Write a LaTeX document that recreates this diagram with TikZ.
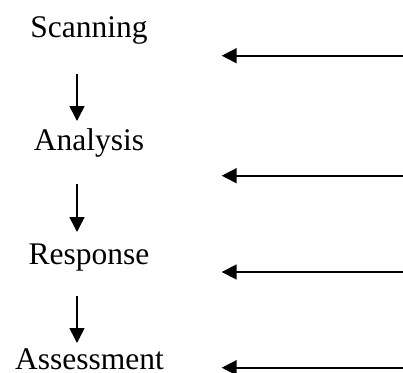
\documentclass[tikz,border=0pt]{standalone}
\usepackage{fontspec}
\setmainfont{Liberation Serif}
\usetikzlibrary{arrows.meta}
\begin{document}
\begin{tikzpicture}[x=1pt,y=-1pt,
  label/.style={anchor=base,inner sep=0pt,font=\fontsize{31.5}{36}\selectfont},
  conn/.style={line width=1.6pt,-{Triangle[length=15pt,width=15pt]}}]
\useasboundingbox (0,0) rectangle (403,372);
\node[label] (scan) at (89,37.3) {Scanning};
\node[label] (anal) at (89,150.7) {Analysis};
\node[label] (resp) at (89,264) {Response};
\node[label,text depth=0pt] (asse) at (89.5,369.5) {Assessment};
\coordinate (d1a) at (77,74);  \coordinate (d1b) at (77,121);
\coordinate (d2a) at (77,184); \coordinate (d2b) at (77,232);
\coordinate (d3a) at (77,296); \coordinate (d3b) at (77,343);
\draw[conn] (d1a) -- (d1b);
\draw[conn] (d2a) -- (d2b);
\draw[conn] (d3a) -- (d3b);
\coordinate (h1a) at (403,55.7);  \coordinate (h1b) at (221.7,55.7);
\coordinate (h2a) at (403,175.7); \coordinate (h2b) at (221.7,175.7);
\coordinate (h3a) at (403,272);   \coordinate (h3b) at (221.7,272);
\coordinate (h4a) at (403,367.7); \coordinate (h4b) at (221.7,367.7);
\draw[conn] (h1a) -- (h1b);
\draw[conn] (h2a) -- (h2b);
\draw[conn] (h3a) -- (h3b);
\draw[conn] (h4a) -- (h4b);
\end{tikzpicture}
\end{document}
